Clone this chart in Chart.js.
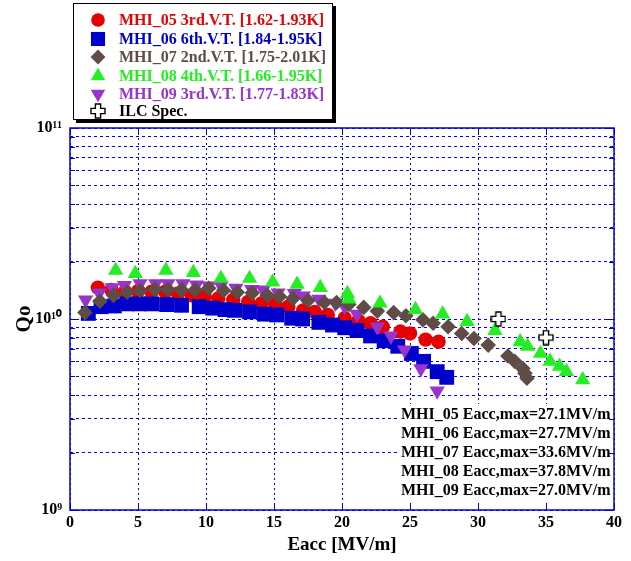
<!DOCTYPE html>
<html><head><meta charset="utf-8">
<script src="https://cdn.jsdelivr.net/npm/chart.js@4.4.0/dist/chart.umd.min.js"></script>
<style>html,body{margin:0;padding:0;background:#fff;}canvas{display:block;}</style>
</head><body>
<canvas id="c" width="631" height="561"></canvas>
<script>
// ---------------- data ----------------
const mhi05E = [2.05, 3.05, 4.05, 5.0, 6.0, 7.0, 7.95, 8.95, 9.9, 10.9, 12.0, 13.1, 14.1, 15.1, 16.05, 17.15, 18.0, 18.95, 20.2, 21.2, 22.1, 23.0, 24.3, 25.0, 26.15, 27.1];
const mhi05Q = [1.46e10, 1.42e10, 1.39e10, 1.40e10, 1.39e10, 1.39e10, 1.36e10, 1.33e10, 1.31e10, 1.28e10, 1.26e10, 1.23e10, 1.21e10, 1.19e10, 1.16e10, 1.11e10, 1.09e10, 1.05e10, 1.01e10, 9.8e9, 9.5e9, 9.1e9, 8.6e9, 8.4e9, 7.8e9, 7.6e9];

const mhi06E = [1.35, 2.28, 3.26, 4.17, 5.1, 6.0, 7.1, 8.2, 9.5, 10.5, 11.4, 12.1, 13.2, 14.3, 15.2, 16.3, 17.1, 18.3, 19.3, 20.2, 21.1, 22.1, 23.1, 24.1, 25.1, 26.0, 27.0, 27.7];
const mhi06Q = [1.07e10, 1.16e10, 1.17e10, 1.20e10, 1.20e10, 1.20e10, 1.19e10, 1.18e10, 1.16e10, 1.14e10, 1.12e10, 1.11e10, 1.09e10, 1.06e10, 1.05e10, 1.01e10, 1.00e10, 9.6e9, 9.3e9, 9.0e9, 8.7e9, 8.15e9, 7.7e9, 7.2e9, 6.6e9, 6.0e9, 5.3e9, 4.95e9];

const mhi07E = [1.1, 2.2, 3.2, 4.2, 5.15, 6.25, 7.2, 8.2, 9.2, 10.2, 11.3, 12.3, 13.4, 14.5, 15.4, 16.4, 17.5, 18.7, 19.6, 20.5, 21.6, 22.6, 23.8, 24.7, 25.95, 26.7, 27.8, 28.8, 29.7, 30.75, 32.2, 32.7, 33.3, 33.45, 33.6];
const mhi07Q = [1.08e10, 1.24e10, 1.33e10, 1.38e10, 1.41e10, 1.43e10, 1.43e10, 1.42e10, 1.42e10, 1.45e10, 1.41e10, 1.38e10, 1.37e10, 1.33e10, 1.31e10, 1.28e10, 1.25e10, 1.22e10, 1.22e10, 1.19e10, 1.15e10, 1.10e10, 1.08e10, 1.04e10, 9.9e9, 9.5e9, 9.1e9, 8.4e9, 7.9e9, 7.3e9, 6.4e9, 6.0e9, 5.5e9, 5.2e9, 4.9e9];

const mhi08E = [3.36, 4.8, 7.05, 9.07, 11.1, 13.2, 14.9, 16.7, 18.4, 20.4, 20.5, 22.8, 25.4, 27.4, 29.2, 31.25, 33.1, 33.65, 34.6, 35.3, 36.0, 36.5, 37.7];
const mhi08Q = [1.80e10, 1.73e10, 1.80e10, 1.75e10, 1.63e10, 1.63e10, 1.56e10, 1.52e10, 1.46e10, 1.36e10, 1.27e10, 1.21e10, 1.12e10, 1.06e10, 9.7e9, 8.7e9, 7.6e9, 7.2e9, 6.6e9, 6.0e9, 5.65e9, 5.3e9, 4.8e9];

const mhi09E = [1.15, 2.15, 3.1, 4.0, 5.15, 6.3, 7.2, 8.3, 9.3, 10.2, 11.1, 12.2, 13.36, 14.2, 15.3, 16.5, 17.15, 18.3, 19.5, 20.2, 21.1, 22.6, 23.6, 24.6, 25.8, 27.0];
const mhi09Q = [1.26e10, 1.37e10, 1.46e10, 1.50e10, 1.53e10, 1.53e10, 1.53e10, 1.53e10, 1.51e10, 1.49e10, 1.49e10, 1.45e10, 1.43e10, 1.42e10, 1.37e10, 1.36e10, 1.32e10, 1.27e10, 1.21e10, 1.16e10, 1.06e10, 9.1e9, 8.15e9, 6.9e9, 5.5e9, 4.2e9];

const ilcE = [31.5, 35.0];
const ilcQ = [1.0e10, 8.0e9];

const seriesLabels = [
  'MHI_05 3rd.V.T. [1.62-1.93K]',
  'MHI_06 6th.V.T. [1.84-1.95K]',
  'MHI_07 2nd.V.T. [1.75-2.01K]',
  'MHI_08 4th.V.T. [1.66-1.95K]',
  'MHI_09 3rd.V.T. [1.77-1.83K]',
  'ILC Spec.'
];
const eaccMaxLines = [
  'MHI_05 Eacc,max=27.1MV/m',
  'MHI_06 Eacc,max=27.7MV/m',
  'MHI_07 Eacc,max=33.6MV/m',
  'MHI_08 Eacc,max=37.8MV/m',
  'MHI_09 Eacc,max=27.0MV/m'
];
const xTickValues = [0, 5, 10, 15, 20, 25, 30, 35, 40];
const yDecades = [1e9, 1e10, 1e11];
const yDecadeLabels = ['10\u2079', '10\u00B9\u2070', '10\u00B9\u00B9'];
const xTitle = 'Eacc [MV/m]';
const yTitle = 'Qo';

// ---------------- styles ----------------
const COL = { red: '#e60000', blue: '#0000cc', brown: '#604c46', green: '#22ee22', purple: '#9933cc' };
const GRID = '#0000ee';
const SERIF = '"Liberation Serif", "Times New Roman", serif';

function pts(xs, ys) { return xs.map((x, i) => ({ x: x, y: ys[i] })); }

function makeCross() {
  const c = document.createElement('canvas');
  c.width = 16; c.height = 16;
  const g = c.getContext('2d');
  const a = 2.6, b = 7, cx = 8, cy = 8;
  g.beginPath();
  g.moveTo(cx - a, cy - b); g.lineTo(cx + a, cy - b); g.lineTo(cx + a, cy - a);
  g.lineTo(cx + b, cy - a); g.lineTo(cx + b, cy + a); g.lineTo(cx + a, cy + a);
  g.lineTo(cx + a, cy + b); g.lineTo(cx - a, cy + b); g.lineTo(cx - a, cy + a);
  g.lineTo(cx - b, cy + a); g.lineTo(cx - b, cy - a); g.lineTo(cx - a, cy - a);
  g.closePath();
  g.fillStyle = '#fff'; g.fill();
  g.lineWidth = 1.4; g.strokeStyle = '#000'; g.stroke();
  return c;
}
const crossImg = makeCross();

const markerDefs = [
  { color: COL.red, style: 'circle', radius: 7.2, rotation: 0 },
  { color: COL.blue, style: 'rect', radius: 10.5, rotation: 0 },
  { color: COL.brown, style: 'rectRot', radius: 7.8, rotation: 0 },
  { color: COL.green, style: 'triangle', radius: 8.8, rotation: 0 },
  { color: COL.purple, style: 'triangle', radius: 8.8, rotation: 180 },
  { color: '#000', style: crossImg, radius: 8, rotation: 0 }
];
const seriesData = [
  pts(mhi05E, mhi05Q), pts(mhi06E, mhi06Q), pts(mhi07E, mhi07Q),
  pts(mhi08E, mhi08Q), pts(mhi09E, mhi09Q), pts(ilcE, ilcQ)
];
// lower order => drawn on top
const drawOrder = [5, 4, 2, 1, 3, 0];

const datasets = seriesData.map((d, i) => ({
  label: seriesLabels[i],
  data: d,
  showLine: false,
  pointStyle: markerDefs[i].style,
  pointRadius: markerDefs[i].radius,
  pointRotation: markerDefs[i].rotation,
  backgroundColor: markerDefs[i].color,
  borderColor: markerDefs[i].color,
  borderWidth: 0,
  order: drawOrder[i]
}));

// ---------------- plugins ----------------
const PLOT = { left: 70, right: 614, top: 128, bottom: 510 };

const framePlugin = {
  id: 'frame',
  afterDatasetsDraw(chart) {
    const ctx = chart.ctx, a = chart.chartArea;
    ctx.save();
    // bottom-right info box
    const bx = 400, by = 404, bw = 213, bh = 99;
    ctx.fillStyle = '#fff';
    ctx.fillRect(bx, by, bw, bh);
    ctx.fillStyle = '#000';
    ctx.font = 'bold 16px ' + SERIF;
    ctx.textBaseline = 'middle';
    ctx.textAlign = 'left';
    eaccMaxLines.forEach((t, i) => ctx.fillText(t, bx + 1, 415 + i * 19));
    // frame
    ctx.strokeStyle = '#0000dd';
    ctx.lineWidth = 1.5;
    ctx.strokeRect(a.left, a.top, a.right - a.left, a.bottom - a.top);
    // tick marks (solid, inward)
    ctx.lineWidth = 1;
    const ys = chart.scales.y, xs = chart.scales.x;
    ys.ticks.forEach(t => {
      const y = Math.round(ys.getPixelForValue(t.value)) + 0.5;
      const L = yDecades.includes(t.value) ? 9 : 5;
      ctx.beginPath();
      ctx.moveTo(a.left, y); ctx.lineTo(a.left + L, y);
      ctx.moveTo(a.right, y); ctx.lineTo(a.right - L, y);
      ctx.stroke();
    });
    xs.ticks.forEach(t => {
      const x = Math.round(xs.getPixelForValue(t.value)) + 0.5;
      ctx.beginPath();
      ctx.moveTo(x, a.bottom); ctx.lineTo(x, a.bottom - 5);
      ctx.moveTo(x, a.top); ctx.lineTo(x, a.top + 5);
      ctx.stroke();
    });
    ctx.restore();
  },
  afterDraw(chart) {
    const ctx = chart.ctx;
    ctx.save();
    // legend box with shadow
    const lx = 73, ly = 3, lw = 260, lh = 117;
    ctx.fillStyle = '#000';
    ctx.fillRect(lx + 3, ly + 3, lw, lh);
    ctx.fillStyle = '#fff';
    ctx.fillRect(lx, ly, lw, lh);
    ctx.strokeStyle = '#000';
    ctx.lineWidth = 1;
    ctx.strokeRect(lx + 0.5, ly + 0.5, lw - 1, lh - 1);
    ctx.font = 'bold 16px ' + SERIF;
    ctx.textBaseline = 'middle';
    ctx.textAlign = 'left';
    const rowY = [20, 39, 57, 76, 94, 111];
    seriesLabels.forEach((t, i) => {
      const m = markerDefs[i];
      ctx.fillStyle = m.color;
      ctx.strokeStyle = m.color;
      const r = (i === 5) ? 8 : m.radius * 0.95;
      Chart.helpers.drawPoint(ctx, { pointStyle: m.style, rotation: m.rotation, radius: r, borderWidth: 0 }, 98, rowY[i]);
      ctx.fillStyle = m.color;
      ctx.fillText(t, 119, rowY[i] + 1);
    });
    ctx.restore();
  }
};

// ---------------- chart ----------------
new Chart(document.getElementById('c'), {
  type: 'scatter',
  data: { datasets: datasets },
  options: {
    responsive: false,
    animation: false,
    events: [],
    layout: { padding: { left: 0, right: 631 - PLOT.right, top: PLOT.top, bottom: 0 } },
    plugins: { legend: { display: false }, tooltip: { enabled: false } },
    scales: {
      x: {
        type: 'linear', min: 0, max: 40,
        afterFit(s) { s.height = 561 - PLOT.bottom; },
        afterBuildTicks(s) { s.ticks = xTickValues.map(v => ({ value: v })); },
        ticks: {
          autoSkip: false, padding: 3, color: '#000', maxRotation: 0,
          font: { family: SERIF, size: 16, weight: 'bold' },
          callback: v => String(v)
        },
        grid: { color: GRID, lineWidth: 1, drawTicks: false },
        border: { display: false, dash: [2, 3] },
        title: {
          display: true, text: xTitle, color: '#000',
          font: { family: SERIF, size: 19, weight: 'bold', lineHeight: 1 },
          padding: { top: 0, bottom: 6 }
        }
      },
      y: {
        type: 'logarithmic', min: 1e9, max: 1e11,
        afterFit(s) { s.width = PLOT.left; },
        afterBuildTicks(s) {
          const t = [];
          yDecades.forEach((d, k) => {
            if (k === yDecades.length - 1) { t.push({ value: d }); return; }
            for (let m = 1; m <= 9; m++) t.push({ value: m * d });
          });
          s.ticks = t;
        },
        ticks: {
          autoSkip: false, padding: 8, color: '#000',
          font: { family: SERIF, size: 16, weight: 'bold' },
          callback: v => { const k = yDecades.findIndex(d => Math.abs(d - v) / d < 1e-6); return k >= 0 ? yDecadeLabels[k] : ''; }
        },
        grid: { color: GRID, lineWidth: 1, drawTicks: false },
        border: { display: false, dash: [3, 3] },
        title: {
          display: true, text: yTitle, color: '#000',
          font: { family: SERIF, size: 21, weight: 'bold', lineHeight: 1 },
          padding: { top: 14, bottom: 0 }
        }
      }
    }
  },
  plugins: [framePlugin]
});
</script>
</body></html>
